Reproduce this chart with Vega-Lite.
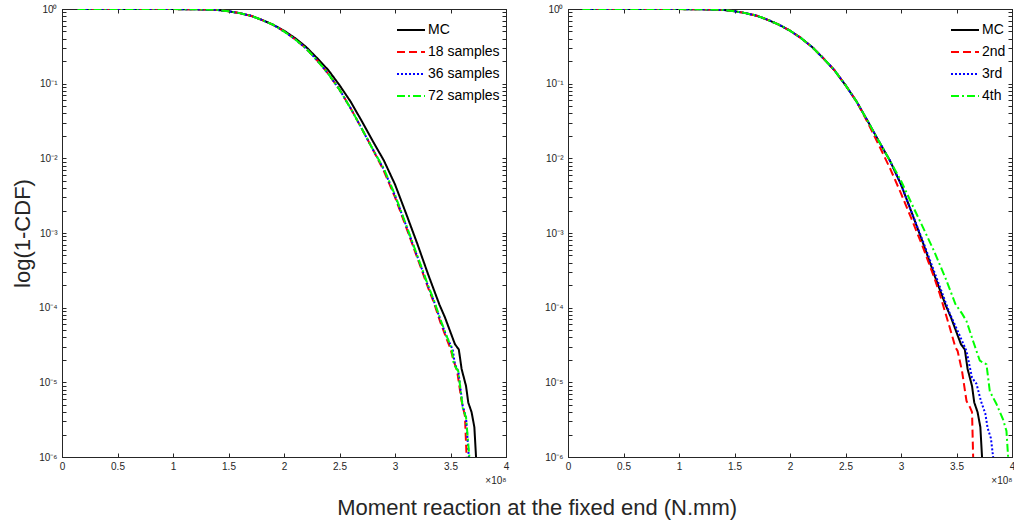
{
"$schema": "https://vega.github.io/schema/vega-lite/v6.json",
"background": "white",
"padding": {"left": 11, "top": 3, "right": 2, "bottom": 2},
"config": {
  "font": "Liberation Sans",
  "view": {"stroke": "#262626", "strokeWidth": 1},
  "axis": {"domainColor": "#262626", "tickColor": "#262626", "labelColor": "#262626", "labelFont": "Liberation Sans", "labelFontSize": 10, "grid": false, "titleFont": "Liberation Sans", "titleFontWeight": "normal", "titleColor": "#262626"},
  "legend": {"orient": "top-right", "offset": 6, "symbolType": "stroke", "symbolSize": 784, "symbolStrokeWidth": 2, "labelFontSize": 14, "labelFont": "Liberation Sans", "labelColor": "#000000", "rowPadding": -10, "labelOffset": 2, "padding": 0}
},
"datasets": {"d": [
{"g":"L","s":"MC","x":0.14,"p":1},{"g":"L","s":"MC","x":0.6,"p":1},{"g":"L","s":"MC","x":1.0,"p":0.9977},{"g":"L","s":"MC","x":1.2,"p":0.9908},{"g":"L","s":"MC","x":1.4,"p":0.9705},{"g":"L","s":"MC","x":1.5,"p":0.9333},{"g":"L","s":"MC","x":1.6,"p":0.881},{"g":"L","s":"MC","x":1.7,"p":0.8128},{"g":"L","s":"MC","x":1.8,"p":0.7161},{"g":"L","s":"MC","x":1.9,"p":0.6166},{"g":"L","s":"MC","x":2.0,"p":0.5129},{"g":"L","s":"MC","x":2.1,"p":0.4074},{"g":"L","s":"MC","x":2.2,"p":0.309},{"g":"L","s":"MC","x":2.3,"p":0.2188},{"g":"L","s":"MC","x":2.4,"p":0.1514},{"g":"L","s":"MC","x":2.5,"p":0.0955},{"g":"L","s":"MC","x":2.6,"p":0.0575},{"g":"L","s":"MC","x":2.7,"p":0.0316},{"g":"L","s":"MC","x":2.8,"p":0.017},{"g":"L","s":"MC","x":2.9,"p":0.00933},{"g":"L","s":"MC","x":3.0,"p":0.00447},{"g":"L","s":"MC","x":3.1,"p":0.00182},{"g":"L","s":"MC","x":3.2,"p":0.000724},{"g":"L","s":"MC","x":3.3,"p":0.000275},{"g":"L","s":"MC","x":3.4,"p":0.00011},{"g":"L","s":"MC","x":3.45,"p":7.41e-5},{"g":"L","s":"MC","x":3.5,"p":4.68e-5},{"g":"L","s":"MC","x":3.54,"p":3.24e-5},{"g":"L","s":"MC","x":3.575,"p":2.75e-5},{"g":"L","s":"MC","x":3.6,"p":1.51e-5},{"g":"L","s":"MC","x":3.64,"p":8.91e-6},{"g":"L","s":"MC","x":3.66,"p":5.37e-6},{"g":"L","s":"MC","x":3.69,"p":3.98e-6},{"g":"L","s":"MC","x":3.715,"p":2.51e-6},{"g":"L","s":"MC","x":3.73,"p":1e-6},
{"g":"L","s":"18 samples","x":0.14,"p":1},{"g":"L","s":"18 samples","x":0.6,"p":1},{"g":"L","s":"18 samples","x":1.0,"p":0.9977},{"g":"L","s":"18 samples","x":1.2,"p":0.9908},{"g":"L","s":"18 samples","x":1.4,"p":0.9705},{"g":"L","s":"18 samples","x":1.5,"p":0.9333},{"g":"L","s":"18 samples","x":1.6,"p":0.881},{"g":"L","s":"18 samples","x":1.7,"p":0.8128},{"g":"L","s":"18 samples","x":1.8,"p":0.7161},{"g":"L","s":"18 samples","x":1.9,"p":0.6166},{"g":"L","s":"18 samples","x":2.0,"p":0.5012},{"g":"L","s":"18 samples","x":2.1,"p":0.3936},{"g":"L","s":"18 samples","x":2.2,"p":0.2951},{"g":"L","s":"18 samples","x":2.3,"p":0.2042},{"g":"L","s":"18 samples","x":2.4,"p":0.1349},{"g":"L","s":"18 samples","x":2.5,"p":0.0832},{"g":"L","s":"18 samples","x":2.6,"p":0.0468},{"g":"L","s":"18 samples","x":2.7,"p":0.0251},{"g":"L","s":"18 samples","x":2.8,"p":0.0132},{"g":"L","s":"18 samples","x":2.9,"p":0.00676},{"g":"L","s":"18 samples","x":3.0,"p":0.00302},{"g":"L","s":"18 samples","x":3.1,"p":0.0012},{"g":"L","s":"18 samples","x":3.2,"p":0.000468},{"g":"L","s":"18 samples","x":3.3,"p":0.000182},{"g":"L","s":"18 samples","x":3.35,"p":0.000117},{"g":"L","s":"18 samples","x":3.41,"p":6.31e-5},{"g":"L","s":"18 samples","x":3.46,"p":3.98e-5},{"g":"L","s":"18 samples","x":3.5,"p":2.82e-5},{"g":"L","s":"18 samples","x":3.53,"p":1.91e-5},{"g":"L","s":"18 samples","x":3.56,"p":1.41e-5},{"g":"L","s":"18 samples","x":3.6,"p":5.62e-6},{"g":"L","s":"18 samples","x":3.63,"p":3.55e-6},{"g":"L","s":"18 samples","x":3.645,"p":1e-6},
{"g":"L","s":"36 samples","x":0.14,"p":1},{"g":"L","s":"36 samples","x":0.6,"p":1},{"g":"L","s":"36 samples","x":1.0,"p":0.9977},{"g":"L","s":"36 samples","x":1.2,"p":0.9908},{"g":"L","s":"36 samples","x":1.4,"p":0.9705},{"g":"L","s":"36 samples","x":1.5,"p":0.9333},{"g":"L","s":"36 samples","x":1.6,"p":0.881},{"g":"L","s":"36 samples","x":1.7,"p":0.8128},{"g":"L","s":"36 samples","x":1.8,"p":0.7161},{"g":"L","s":"36 samples","x":1.9,"p":0.6166},{"g":"L","s":"36 samples","x":2.0,"p":0.5012},{"g":"L","s":"36 samples","x":2.1,"p":0.3936},{"g":"L","s":"36 samples","x":2.2,"p":0.2951},{"g":"L","s":"36 samples","x":2.3,"p":0.2042},{"g":"L","s":"36 samples","x":2.4,"p":0.1349},{"g":"L","s":"36 samples","x":2.5,"p":0.0832},{"g":"L","s":"36 samples","x":2.6,"p":0.0468},{"g":"L","s":"36 samples","x":2.7,"p":0.0251},{"g":"L","s":"36 samples","x":2.8,"p":0.0132},{"g":"L","s":"36 samples","x":2.9,"p":0.00708},{"g":"L","s":"36 samples","x":3.0,"p":0.00316},{"g":"L","s":"36 samples","x":3.1,"p":0.00126},{"g":"L","s":"36 samples","x":3.2,"p":0.00049},{"g":"L","s":"36 samples","x":3.3,"p":0.000191},{"g":"L","s":"36 samples","x":3.35,"p":0.000123},{"g":"L","s":"36 samples","x":3.41,"p":6.76e-5},{"g":"L","s":"36 samples","x":3.46,"p":4.27e-5},{"g":"L","s":"36 samples","x":3.52,"p":2.75e-5},{"g":"L","s":"36 samples","x":3.54,"p":1.74e-5},{"g":"L","s":"36 samples","x":3.57,"p":1.41e-5},{"g":"L","s":"36 samples","x":3.61,"p":4.79e-6},{"g":"L","s":"36 samples","x":3.64,"p":3.39e-6},{"g":"L","s":"36 samples","x":3.665,"p":1e-6},
{"g":"L","s":"72 samples","x":0.14,"p":1},{"g":"L","s":"72 samples","x":0.6,"p":1},{"g":"L","s":"72 samples","x":1.0,"p":0.9977},{"g":"L","s":"72 samples","x":1.2,"p":0.9908},{"g":"L","s":"72 samples","x":1.4,"p":0.9705},{"g":"L","s":"72 samples","x":1.5,"p":0.9333},{"g":"L","s":"72 samples","x":1.6,"p":0.881},{"g":"L","s":"72 samples","x":1.7,"p":0.8128},{"g":"L","s":"72 samples","x":1.8,"p":0.7161},{"g":"L","s":"72 samples","x":1.9,"p":0.6166},{"g":"L","s":"72 samples","x":2.0,"p":0.5012},{"g":"L","s":"72 samples","x":2.1,"p":0.3936},{"g":"L","s":"72 samples","x":2.2,"p":0.2951},{"g":"L","s":"72 samples","x":2.3,"p":0.2042},{"g":"L","s":"72 samples","x":2.4,"p":0.1349},{"g":"L","s":"72 samples","x":2.5,"p":0.0832},{"g":"L","s":"72 samples","x":2.6,"p":0.0468},{"g":"L","s":"72 samples","x":2.7,"p":0.0251},{"g":"L","s":"72 samples","x":2.8,"p":0.0132},{"g":"L","s":"72 samples","x":2.9,"p":0.00724},{"g":"L","s":"72 samples","x":3.0,"p":0.00324},{"g":"L","s":"72 samples","x":3.1,"p":0.00129},{"g":"L","s":"72 samples","x":3.2,"p":0.000501},{"g":"L","s":"72 samples","x":3.3,"p":0.000195},{"g":"L","s":"72 samples","x":3.35,"p":0.000126},{"g":"L","s":"72 samples","x":3.41,"p":6.92e-5},{"g":"L","s":"72 samples","x":3.46,"p":4.37e-5},{"g":"L","s":"72 samples","x":3.51,"p":2.82e-5},{"g":"L","s":"72 samples","x":3.53,"p":1.74e-5},{"g":"L","s":"72 samples","x":3.57,"p":1.41e-5},{"g":"L","s":"72 samples","x":3.61,"p":4.57e-6},{"g":"L","s":"72 samples","x":3.64,"p":3.39e-6},{"g":"L","s":"72 samples","x":3.67,"p":1e-6},
{"g":"R","s":"MC","x":0.13,"p":1},{"g":"R","s":"MC","x":0.6,"p":1},{"g":"R","s":"MC","x":1.0,"p":0.9977},{"g":"R","s":"MC","x":1.2,"p":0.9908},{"g":"R","s":"MC","x":1.4,"p":0.9705},{"g":"R","s":"MC","x":1.5,"p":0.9333},{"g":"R","s":"MC","x":1.6,"p":0.881},{"g":"R","s":"MC","x":1.7,"p":0.8128},{"g":"R","s":"MC","x":1.8,"p":0.7161},{"g":"R","s":"MC","x":1.9,"p":0.6166},{"g":"R","s":"MC","x":2.0,"p":0.5129},{"g":"R","s":"MC","x":2.1,"p":0.4074},{"g":"R","s":"MC","x":2.2,"p":0.309},{"g":"R","s":"MC","x":2.3,"p":0.2188},{"g":"R","s":"MC","x":2.4,"p":0.1514},{"g":"R","s":"MC","x":2.5,"p":0.0955},{"g":"R","s":"MC","x":2.6,"p":0.0575},{"g":"R","s":"MC","x":2.7,"p":0.0316},{"g":"R","s":"MC","x":2.8,"p":0.017},{"g":"R","s":"MC","x":2.9,"p":0.00933},{"g":"R","s":"MC","x":3.0,"p":0.00447},{"g":"R","s":"MC","x":3.1,"p":0.00182},{"g":"R","s":"MC","x":3.2,"p":0.000724},{"g":"R","s":"MC","x":3.3,"p":0.000275},{"g":"R","s":"MC","x":3.4,"p":0.00011},{"g":"R","s":"MC","x":3.45,"p":7.41e-5},{"g":"R","s":"MC","x":3.5,"p":4.68e-5},{"g":"R","s":"MC","x":3.54,"p":3.24e-5},{"g":"R","s":"MC","x":3.575,"p":2.75e-5},{"g":"R","s":"MC","x":3.6,"p":1.51e-5},{"g":"R","s":"MC","x":3.64,"p":8.91e-6},{"g":"R","s":"MC","x":3.66,"p":5.37e-6},{"g":"R","s":"MC","x":3.69,"p":3.98e-6},{"g":"R","s":"MC","x":3.715,"p":2.51e-6},{"g":"R","s":"MC","x":3.73,"p":1e-6},
{"g":"R","s":"2nd","x":0.13,"p":1},{"g":"R","s":"2nd","x":0.6,"p":1},{"g":"R","s":"2nd","x":1.0,"p":0.9977},{"g":"R","s":"2nd","x":1.2,"p":0.9908},{"g":"R","s":"2nd","x":1.4,"p":0.9705},{"g":"R","s":"2nd","x":1.5,"p":0.9333},{"g":"R","s":"2nd","x":1.6,"p":0.881},{"g":"R","s":"2nd","x":1.7,"p":0.8128},{"g":"R","s":"2nd","x":1.8,"p":0.7161},{"g":"R","s":"2nd","x":1.9,"p":0.6166},{"g":"R","s":"2nd","x":2.0,"p":0.5129},{"g":"R","s":"2nd","x":2.1,"p":0.4074},{"g":"R","s":"2nd","x":2.2,"p":0.309},{"g":"R","s":"2nd","x":2.3,"p":0.2188},{"g":"R","s":"2nd","x":2.4,"p":0.1514},{"g":"R","s":"2nd","x":2.5,"p":0.0955},{"g":"R","s":"2nd","x":2.6,"p":0.0575},{"g":"R","s":"2nd","x":2.7,"p":0.0302},{"g":"R","s":"2nd","x":2.8,"p":0.0151},{"g":"R","s":"2nd","x":2.9,"p":0.00741},{"g":"R","s":"2nd","x":3.0,"p":0.00339},{"g":"R","s":"2nd","x":3.1,"p":0.00148},{"g":"R","s":"2nd","x":3.2,"p":0.000631},{"g":"R","s":"2nd","x":3.3,"p":0.000251},{"g":"R","s":"2nd","x":3.35,"p":0.000151},{"g":"R","s":"2nd","x":3.44,"p":5.37e-5},{"g":"R","s":"2nd","x":3.49,"p":2.95e-5},{"g":"R","s":"2nd","x":3.51,"p":2.63e-5},{"g":"R","s":"2nd","x":3.55,"p":1.41e-5},{"g":"R","s":"2nd","x":3.59,"p":5.62e-6},{"g":"R","s":"2nd","x":3.62,"p":4.68e-6},{"g":"R","s":"2nd","x":3.64,"p":3.98e-6},{"g":"R","s":"2nd","x":3.65,"p":1e-6},
{"g":"R","s":"3rd","x":0.13,"p":1},{"g":"R","s":"3rd","x":0.6,"p":1},{"g":"R","s":"3rd","x":1.0,"p":0.9977},{"g":"R","s":"3rd","x":1.2,"p":0.9908},{"g":"R","s":"3rd","x":1.4,"p":0.9705},{"g":"R","s":"3rd","x":1.5,"p":0.9333},{"g":"R","s":"3rd","x":1.6,"p":0.881},{"g":"R","s":"3rd","x":1.7,"p":0.8128},{"g":"R","s":"3rd","x":1.8,"p":0.7161},{"g":"R","s":"3rd","x":1.9,"p":0.6166},{"g":"R","s":"3rd","x":2.0,"p":0.5129},{"g":"R","s":"3rd","x":2.1,"p":0.4074},{"g":"R","s":"3rd","x":2.2,"p":0.309},{"g":"R","s":"3rd","x":2.3,"p":0.2188},{"g":"R","s":"3rd","x":2.4,"p":0.1514},{"g":"R","s":"3rd","x":2.5,"p":0.0955},{"g":"R","s":"3rd","x":2.6,"p":0.0575},{"g":"R","s":"3rd","x":2.7,"p":0.0316},{"g":"R","s":"3rd","x":2.8,"p":0.017},{"g":"R","s":"3rd","x":2.9,"p":0.00933},{"g":"R","s":"3rd","x":3.0,"p":0.00447},{"g":"R","s":"3rd","x":3.1,"p":0.00182},{"g":"R","s":"3rd","x":3.2,"p":0.000759},{"g":"R","s":"3rd","x":3.3,"p":0.000302},{"g":"R","s":"3rd","x":3.4,"p":0.00012},{"g":"R","s":"3rd","x":3.44,"p":8.32e-5},{"g":"R","s":"3rd","x":3.51,"p":4.9e-5},{"g":"R","s":"3rd","x":3.59,"p":2.63e-5},{"g":"R","s":"3rd","x":3.64,"p":1.15e-5},{"g":"R","s":"3rd","x":3.68,"p":9.55e-6},{"g":"R","s":"3rd","x":3.72,"p":5.62e-6},{"g":"R","s":"3rd","x":3.76,"p":3.8e-6},{"g":"R","s":"3rd","x":3.78,"p":2.45e-6},{"g":"R","s":"3rd","x":3.81,"p":1.78e-6},{"g":"R","s":"3rd","x":3.83,"p":1e-6},
{"g":"R","s":"4th","x":0.13,"p":1},{"g":"R","s":"4th","x":0.6,"p":1},{"g":"R","s":"4th","x":1.0,"p":0.9977},{"g":"R","s":"4th","x":1.2,"p":0.9908},{"g":"R","s":"4th","x":1.4,"p":0.9705},{"g":"R","s":"4th","x":1.5,"p":0.9333},{"g":"R","s":"4th","x":1.6,"p":0.881},{"g":"R","s":"4th","x":1.7,"p":0.8128},{"g":"R","s":"4th","x":1.8,"p":0.7161},{"g":"R","s":"4th","x":1.9,"p":0.6166},{"g":"R","s":"4th","x":2.0,"p":0.5129},{"g":"R","s":"4th","x":2.1,"p":0.4074},{"g":"R","s":"4th","x":2.2,"p":0.309},{"g":"R","s":"4th","x":2.3,"p":0.2188},{"g":"R","s":"4th","x":2.4,"p":0.1514},{"g":"R","s":"4th","x":2.5,"p":0.0955},{"g":"R","s":"4th","x":2.6,"p":0.0575},{"g":"R","s":"4th","x":2.7,"p":0.0316},{"g":"R","s":"4th","x":2.8,"p":0.017},{"g":"R","s":"4th","x":2.9,"p":0.00933},{"g":"R","s":"4th","x":3.0,"p":0.00501},{"g":"R","s":"4th","x":3.1,"p":0.0024},{"g":"R","s":"4th","x":3.2,"p":0.00117},{"g":"R","s":"4th","x":3.3,"p":0.000562},{"g":"R","s":"4th","x":3.4,"p":0.000251},{"g":"R","s":"4th","x":3.49,"p":0.000112},{"g":"R","s":"4th","x":3.55,"p":8.32e-5},{"g":"R","s":"4th","x":3.59,"p":6.61e-5},{"g":"R","s":"4th","x":3.65,"p":3.55e-5},{"g":"R","s":"4th","x":3.71,"p":1.95e-5},{"g":"R","s":"4th","x":3.77,"p":1.74e-5},{"g":"R","s":"4th","x":3.8,"p":7.59e-6},{"g":"R","s":"4th","x":3.86,"p":5.13e-6},{"g":"R","s":"4th","x":3.92,"p":3.16e-6},{"g":"R","s":"4th","x":3.95,"p":2.24e-6},{"g":"R","s":"4th","x":3.965,"p":1e-6}
]},
"title": {"text": "Moment reaction at the fixed end (N.mm)", "orient": "bottom", "anchor": "middle", "fontSize": 22, "fontWeight": "normal", "color": "#262626", "font": "Liberation Sans", "offset": 12, "dx": 24},
"bounds": "flush",
"spacing": 62,
"resolve": {"scale": {"color": "independent", "strokeDash": "independent"}},
"hconcat": [
 {
  "width": 444, "height": 448,
  "data": {"name": "d"},
  "transform": [{"filter": "datum.g == 'L'"}],
  "layer": [
   {
    "mark": {"type": "line", "strokeWidth": 2, "clip": true},
    "encoding": {
      "x": {"field": "x", "type": "quantitative", "scale": {"domain": [0, 4], "nice": false},
        "axis": {"orient": "bottom", "values": [0, 0.5, 1, 1.5, 2, 2.5, 3, 3.5, 4], "format": "~g", "tickSize": -4, "labelPadding": 8, "labelFlush": false, "title": "×10⁸", "titleAnchor": "end", "titleFontSize": 10, "titlePadding": 4}},
      "y": {"field": "p", "type": "quantitative", "scale": {"type": "log", "domain": [1e-6, 1], "nice": false},
        "axis": {"orient": "left", "values": [1e-6,2e-6,3e-6,4e-6,5e-6,6e-6,7e-6,8e-6,9e-6,1e-5,2e-5,3e-5,4e-5,5e-5,6e-5,7e-5,8e-5,9e-5,0.0001,0.0002,0.0003,0.0004,0.0005,0.0006,0.0007,0.0008,0.0009,0.001,0.002,0.003,0.004,0.005,0.006,0.007,0.008,0.009,0.01,0.02,0.03,0.04,0.05,0.06,0.07,0.08,0.09,0.1,0.2,0.3,0.4,0.5,0.6,0.7,0.8,0.9,1],
          "labelExpr": "abs(log(datum.value)/LN10 - round(log(datum.value)/LN10)) < 0.01 ? '10' + ['⁰','⁻¹','⁻²','⁻³','⁻⁴','⁻⁵','⁻⁶'][round(-log(datum.value)/LN10)] : ''",
          "labelOverlap": false, "tickSize": -4, "labelPadding": 9, "title": "log(1-CDF)", "titleFontSize": 22, "titlePadding": 4}},
      "color": {"field": "s", "type": "nominal", "sort": ["MC", "18 samples", "36 samples", "72 samples"], "scale": {"domain": ["MC", "18 samples", "36 samples", "72 samples"], "range": ["#000000", "#ff0000", "#0000ff", "#00ff00"]}, "legend": {"title": null}},
      "strokeDash": {"field": "s", "type": "nominal", "sort": ["MC", "18 samples", "36 samples", "72 samples"], "scale": {"domain": ["MC", "18 samples", "36 samples", "72 samples"], "range": [[1, 0], [8, 4], [2, 2], [8, 3, 2, 3]]}, "legend": {"title": null}}
    }
   },
   {
    "mark": {"type": "point", "opacity": 0},
    "encoding": {
      "x": {"field": "x", "type": "quantitative", "axis": {"orient": "top", "values": [0, 0.5, 1, 1.5, 2, 2.5, 3, 3.5, 4], "labels": false, "tickSize": -4, "title": null}},
      "y": {"field": "p", "type": "quantitative", "axis": {"orient": "right", "values": [1e-6,2e-6,3e-6,4e-6,5e-6,6e-6,7e-6,8e-6,9e-6,1e-5,2e-5,3e-5,4e-5,5e-5,6e-5,7e-5,8e-5,9e-5,0.0001,0.0002,0.0003,0.0004,0.0005,0.0006,0.0007,0.0008,0.0009,0.001,0.002,0.003,0.004,0.005,0.006,0.007,0.008,0.009,0.01,0.02,0.03,0.04,0.05,0.06,0.07,0.08,0.09,0.1,0.2,0.3,0.4,0.5,0.6,0.7,0.8,0.9,1], "labels": false, "tickSize": -4, "title": null}}
    }
   }
  ],
  "resolve": {"axis": {"x": "independent", "y": "independent"}}
 },
 {
  "width": 444, "height": 448,
  "data": {"name": "d"},
  "transform": [{"filter": "datum.g == 'R'"}],
  "layer": [
   {
    "mark": {"type": "line", "strokeWidth": 2, "clip": true},
    "encoding": {
      "x": {"field": "x", "type": "quantitative", "scale": {"domain": [0, 4], "nice": false},
        "axis": {"orient": "bottom", "values": [0, 0.5, 1, 1.5, 2, 2.5, 3, 3.5, 4], "format": "~g", "tickSize": -4, "labelPadding": 8, "labelFlush": false, "title": "×10⁸", "titleAnchor": "end", "titleFontSize": 10, "titlePadding": 4}},
      "y": {"field": "p", "type": "quantitative", "scale": {"type": "log", "domain": [1e-6, 1], "nice": false},
        "axis": {"orient": "left", "values": [1e-6,2e-6,3e-6,4e-6,5e-6,6e-6,7e-6,8e-6,9e-6,1e-5,2e-5,3e-5,4e-5,5e-5,6e-5,7e-5,8e-5,9e-5,0.0001,0.0002,0.0003,0.0004,0.0005,0.0006,0.0007,0.0008,0.0009,0.001,0.002,0.003,0.004,0.005,0.006,0.007,0.008,0.009,0.01,0.02,0.03,0.04,0.05,0.06,0.07,0.08,0.09,0.1,0.2,0.3,0.4,0.5,0.6,0.7,0.8,0.9,1],
          "labelExpr": "abs(log(datum.value)/LN10 - round(log(datum.value)/LN10)) < 0.01 ? '10' + ['⁰','⁻¹','⁻²','⁻³','⁻⁴','⁻⁵','⁻⁶'][round(-log(datum.value)/LN10)] : ''",
          "labelOverlap": false, "tickSize": -4, "labelPadding": 9, "title": null}},
      "color": {"field": "s", "type": "nominal", "sort": ["MC", "2nd", "3rd", "4th"], "scale": {"domain": ["MC", "2nd", "3rd", "4th"], "range": ["#000000", "#ff0000", "#0000ff", "#00ff00"]}, "legend": {"title": null}},
      "strokeDash": {"field": "s", "type": "nominal", "sort": ["MC", "2nd", "3rd", "4th"], "scale": {"domain": ["MC", "2nd", "3rd", "4th"], "range": [[1, 0], [8, 4], [2, 2], [8, 3, 2, 3]]}, "legend": {"title": null}}
    }
   },
   {
    "mark": {"type": "point", "opacity": 0},
    "encoding": {
      "x": {"field": "x", "type": "quantitative", "axis": {"orient": "top", "values": [0, 0.5, 1, 1.5, 2, 2.5, 3, 3.5, 4], "labels": false, "tickSize": -4, "title": null}},
      "y": {"field": "p", "type": "quantitative", "axis": {"orient": "right", "values": [1e-6,2e-6,3e-6,4e-6,5e-6,6e-6,7e-6,8e-6,9e-6,1e-5,2e-5,3e-5,4e-5,5e-5,6e-5,7e-5,8e-5,9e-5,0.0001,0.0002,0.0003,0.0004,0.0005,0.0006,0.0007,0.0008,0.0009,0.001,0.002,0.003,0.004,0.005,0.006,0.007,0.008,0.009,0.01,0.02,0.03,0.04,0.05,0.06,0.07,0.08,0.09,0.1,0.2,0.3,0.4,0.5,0.6,0.7,0.8,0.9,1], "labels": false, "tickSize": -4, "title": null}}
    }
   }
  ],
  "resolve": {"axis": {"x": "independent", "y": "independent"}}
 }
]
}
